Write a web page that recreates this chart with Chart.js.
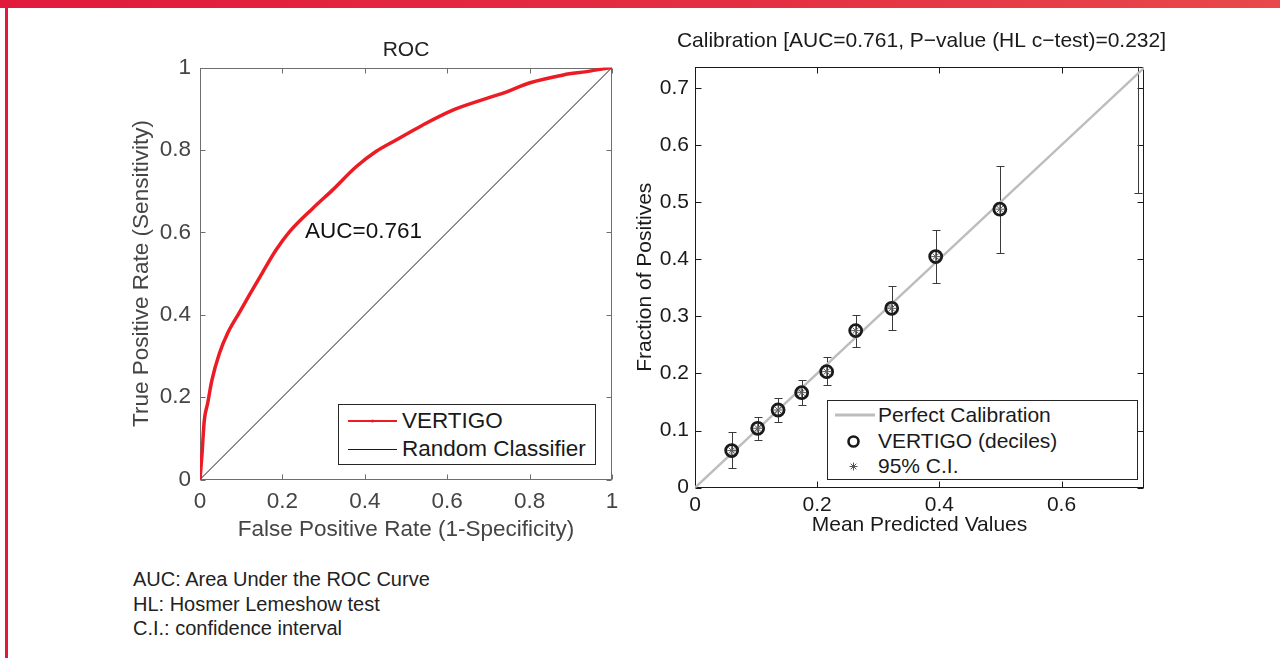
<!DOCTYPE html>
<html>
<head>
<meta charset="utf-8">
<title>VERTIGO ROC and calibration</title>
<script src="https://cdn.jsdelivr.net/npm/chart.js@4.4.1/dist/chart.umd.min.js"></script>
<style>
html, body { margin: 0; padding: 0; background: #fff; }
body { position: relative; width: 1280px; height: 658px; overflow: hidden; font-family: "Liberation Sans", Arial, Helvetica, sans-serif; color: #1a1a1a; }
#band { position: absolute; left: 0; top: 0; width: 1280px; height: 8px; background: linear-gradient(90deg, #e11a3b 0%, #e43042 60%, #e8494b 100%); }
#rule { position: absolute; left: 5px; top: 8px; width: 3px; height: 650px; background: #e11a3b; }
.panel { position: absolute; top: 0; }
#rocPanel { left: 0; }
#calPanel { left: 620px; }
.legend { position: absolute; background: #fff; border: 1px solid #262626; box-sizing: border-box; }
.row { position: absolute; left: 0; right: 0; height: 26px; line-height: 26px; white-space: nowrap; }
.row svg { position: absolute; top: 0; }
.row .txt { position: absolute; top: 0; }
#rocLegend { left: 338px; top: 404px; width: 258px; height: 61px; font-size: 22.5px; }
#calLegend { left: 827px; top: 400px; width: 311px; height: 80px; font-size: 21px; }
#notes { position: absolute; left: 133px; top: 567px; font-size: 20px; line-height: 24.5px; color: #222; }
</style>
</head>
<body>
<div id="band"></div>
<div id="rule"></div>

<div class="panel" id="rocPanel"><canvas id="rocChart" width="640" height="560"></canvas></div>
<div class="panel" id="calPanel"><canvas id="calChart" width="660" height="560"></canvas></div>

<div class="legend" id="rocLegend">
  <div class="row" style="top:3px">
    <svg width="62" height="26" style="left:0"><line x1="9" y1="13" x2="58" y2="13" stroke="#ec1c24" stroke-width="2"/><circle cx="33.5" cy="13" r="1.6" fill="#ec1c24"/></svg>
    <span class="txt" style="left:63px">VERTIGO</span>
  </div>
  <div class="row" style="top:31px">
    <svg width="62" height="26" style="left:0"><line x1="9" y1="13.5" x2="58" y2="13.5" stroke="#1a1a1a" stroke-width="1"/></svg>
    <span class="txt" style="left:63px">Random Classifier</span>
  </div>
</div>

<div class="legend" id="calLegend">
  <div class="row" style="top:1px">
    <svg width="50" height="26" style="left:0"><line x1="7" y1="13" x2="47" y2="13" stroke="#bdbdbd" stroke-width="3"/></svg>
    <span class="txt" style="left:50px">Perfect Calibration</span>
  </div>
  <div class="row" style="top:27px">
    <svg width="50" height="26" style="left:0"><circle cx="25.5" cy="13.5" r="5" fill="none" stroke="#1a1a1a" stroke-width="2.6"/></svg>
    <span class="txt" style="left:50px">VERTIGO (deciles)</span>
  </div>
  <div class="row" style="top:52px">
    <svg width="50" height="26" style="left:0"><g stroke="#555" stroke-width="1"><line x1="25.5" y1="9.5" x2="25.5" y2="17.5"/><line x1="21.5" y1="13.5" x2="29.5" y2="13.5"/><line x1="22.7" y1="10.7" x2="28.3" y2="16.3"/><line x1="22.7" y1="16.3" x2="28.3" y2="10.7"/></g></svg>
    <span class="txt" style="left:50px">95% C.I.</span>
  </div>
</div>

<div id="notes">
  <div>AUC: Area Under the ROC Curve</div>
  <div>HL: Hosmer Lemeshow test</div>
  <div>C.I.: confidence interval</div>
</div>

<script>
// ROC curve
const rocFpr = [0, 0.005, 0.0105, 0.0186, 0.029, 0.047, 0.067, 0.0955, 0.120, 0.152, 0.1845, 0.217, 0.2735, 0.322, 0.379, 0.427, 0.476, 0.540, 0.615, 0.696, 0.736, 0.801, 0.882, 0.9385, 1];
const rocTpr = [0, 0.064, 0.144, 0.185, 0.2415, 0.306, 0.355, 0.405, 0.448, 0.503, 0.557, 0.601, 0.658, 0.703, 0.759, 0.796, 0.824, 0.860, 0.897, 0.925, 0.938, 0.963, 0.982, 0.990, 1];
const chanceFpr = [0, 1];
const chanceTpr = [0, 1];
const rocTicks = [0, 0.2, 0.4, 0.6, 0.8, 1];
const rocTickLabels = ['0', '0.2', '0.4', '0.6', '0.8', '1'];
const aucText = 'AUC=0.761';
const aucAt = [0.255, 0.601];

// Calibration by decile: mean predicted, observed fraction, 95% C.I.
const calPred = [0.060, 0.1026, 0.136, 0.1746, 0.2155, 0.263, 0.322, 0.394, 0.499, 0.7255];
const calObs  = [0.065, 0.104, 0.136, 0.1664, 0.2032, 0.275, 0.314, 0.4046, 0.4876, 0.80];
const calLow  = [0.034, 0.0835, 0.1156, 0.1448, 0.1793, 0.247, 0.276, 0.358, 0.4116, 0.516];
const calHigh = [0.097, 0.124, 0.1566, 0.1886, 0.2284, 0.303, 0.353, 0.451, 0.564, 1.0];
const idealX = [0, 0.74];
const idealY = [0, 0.74];
const calXTicks = [0, 0.2, 0.4, 0.6];
const calXTickLabels = ['0', '0.2', '0.4', '0.6'];
const calYTicks = [0, 0.1, 0.2, 0.3, 0.4, 0.5, 0.6, 0.7];
const calYTickLabels = ['0', '0.1', '0.2', '0.3', '0.4', '0.5', '0.6', '0.7'];
const calXMax = 0.735;
const calYMax = 0.737;

const FONT = '"Liberation Sans", Arial, Helvetica, sans-serif';
Chart.defaults.font.family = FONT;

function pts(xs, ys) {
    return xs.map((x, i) => ({ x: x, y: ys[i] }));
}

// box round the plot with inward ticks on all four sides (matlab look)
const framePlugin = {
    id: 'frame',
    beforeDatasetsDraw(chart, args, o) {
        const { ctx, chartArea: a, scales: { x, y } } = chart;
        const L = Math.round(a.left) + 0.5, R = Math.round(a.right) - 0.5;
        const T = Math.round(a.top) + 0.5, B = Math.round(a.bottom) - 0.5;
        ctx.save();
        ctx.strokeStyle = o.color;
        ctx.lineWidth = 1;
        ctx.strokeRect(L, T, R - L, B - T);
        ctx.beginPath();
        x.ticks.forEach(t => {
            const px = Math.round(x.getPixelForValue(t.value)) + 0.5;
            ctx.moveTo(px, B); ctx.lineTo(px, B - o.len);
            ctx.moveTo(px, T); ctx.lineTo(px, T + o.len);
        });
        y.ticks.forEach(t => {
            const py = Math.round(y.getPixelForValue(t.value)) + 0.5;
            ctx.moveTo(L, py); ctx.lineTo(L + o.len, py);
            ctx.moveTo(R, py); ctx.lineTo(R - o.len, py);
        });
        ctx.stroke();
        ctx.restore();
    }
};

// title centred over the plot area, not over the whole canvas
const panelTitle = {
    id: 'panelTitle',
    afterDraw(chart, args, o) {
        const { ctx, chartArea: a } = chart;
        ctx.save();
        ctx.font = o.font;
        ctx.fillStyle = o.color;
        ctx.textAlign = 'center';
        ctx.textBaseline = 'middle';
        ctx.fillText(o.text, (a.left + a.right) / 2 + (o.dx || 0), o.y);
        ctx.restore();
    }
};

const aucNote = {
    id: 'aucNote',
    afterDatasetsDraw(chart, args, o) {
        const { ctx, scales: { x, y } } = chart;
        ctx.save();
        ctx.font = o.font;
        ctx.fillStyle = o.color;
        ctx.textAlign = 'left';
        ctx.textBaseline = 'middle';
        ctx.fillText(aucText, x.getPixelForValue(aucAt[0]), y.getPixelForValue(aucAt[1]));
        ctx.restore();
    }
};

const errorBars = {
    id: 'errorBars',
    beforeDatasetsDraw(chart, args, o) {
        const { ctx, chartArea: a, scales: { x, y } } = chart;
        ctx.save();
        ctx.beginPath();
        ctx.rect(a.left, a.top, a.right - a.left, a.bottom - a.top);
        ctx.clip();
        ctx.strokeStyle = o.color;
        ctx.lineWidth = 1;
        ctx.beginPath();
        calPred.forEach((p, i) => {
            const px = Math.round(x.getPixelForValue(p)) + 0.5;
            const lo = Math.round(y.getPixelForValue(calLow[i])) + 0.5;
            const hi = Math.round(y.getPixelForValue(calHigh[i])) + 0.5;
            ctx.moveTo(px, lo); ctx.lineTo(px, hi);
            ctx.moveTo(px - o.cap, lo); ctx.lineTo(px + o.cap, lo);
            ctx.moveTo(px - o.cap, hi); ctx.lineTo(px + o.cap, hi);
        });
        ctx.stroke();
        ctx.restore();
    }
};

function fixedTicks(values) {
    return scale => { scale.ticks = values.map(v => ({ value: v })); };
}

// ---- ROC panel ----
const rocGrey = '#454545';
new Chart(document.getElementById('rocChart'), {
    type: 'scatter',
    data: {
        datasets: [{
            label: 'VERTIGO',
            type: 'line',
            data: pts(rocFpr, rocTpr),
            borderColor: '#ec1c24',
            borderWidth: 3.5,
            pointRadius: 0,
            cubicInterpolationMode: 'monotone',
            fill: false
        }, {
            label: 'Random Classifier',
            type: 'line',
            data: pts(chanceFpr, chanceTpr),
            borderColor: '#1a1a1a',
            borderWidth: 1,
            pointRadius: 0,
            fill: false
        }]
    },
    options: {
        responsive: false,
        animation: false,
        events: [],
        layout: { padding: { left: 120, right: 28, top: 67.5, bottom: 0 } },
        plugins: {
            legend: { display: false },
            tooltip: { enabled: false },
            frame: { color: '#6e6e6e', len: 5 },
            panelTitle: { text: 'ROC', font: '21px ' + FONT, color: '#222', y: 50 },
            aucNote: { font: '22.5px ' + FONT, color: '#111' }
        },
        scales: {
            x: {
                type: 'linear', min: 0, max: 1,
                afterBuildTicks: fixedTicks(rocTicks),
                afterFit: s => { s.height = 80.5; },
                grid: { display: false, drawTicks: false },
                border: { display: false },
                ticks: { callback: (v, i) => rocTickLabels[i], padding: 9, color: rocGrey, font: { size: 22.5 }, maxRotation: 0, autoSkip: false },
                title: { display: true, text: 'False Positive Rate (1-Specificity)', color: rocGrey, font: { size: 22.5 }, padding: { top: 0, bottom: 16.5 } }
            },
            y: {
                type: 'linear', min: 0, max: 1,
                afterBuildTicks: fixedTicks(rocTicks),
                afterFit: s => { s.width = 80; },
                grid: { display: false, drawTicks: false },
                border: { display: false },
                ticks: { callback: (v, i) => rocTickLabels[i], padding: 9, color: rocGrey, font: { size: 22.5 }, autoSkip: false },
                title: { display: true, text: 'True Positive Rate (Sensitivity)', color: rocGrey, font: { size: 22.5 }, padding: { top: 8, bottom: 0 } }
            }
        }
    },
    plugins: [framePlugin, panelTitle, aucNote]
});

// ---- calibration panel ----
new Chart(document.getElementById('calChart'), {
    type: 'scatter',
    data: {
        datasets: [{
            label: '95% C.I.',
            data: pts(calPred, calObs),
            pointStyle: 'star',
            pointRadius: 4.5,
            borderColor: '#5a5a5a',
            borderWidth: 1,
            backgroundColor: 'rgba(0,0,0,0)',
            order: 0
        }, {
            label: 'VERTIGO (deciles)',
            data: pts(calPred, calObs),
            pointStyle: 'circle',
            pointRadius: 6,
            borderColor: '#1a1a1a',
            borderWidth: 2.8,
            backgroundColor: 'rgba(0,0,0,0)',
            order: 1
        }, {
            label: 'Perfect Calibration',
            type: 'line',
            data: pts(idealX, idealY),
            borderColor: '#bdbdbd',
            borderWidth: 2.5,
            pointRadius: 0,
            fill: false,
            order: 2
        }]
    },
    options: {
        responsive: false,
        animation: false,
        events: [],
        layout: { padding: { left: 0, right: 136, top: 66.7, bottom: 17.3 } },
        plugins: {
            legend: { display: false },
            tooltip: { enabled: false },
            frame: { color: '#1a1a1a', len: 6 },
            errorBars: { color: '#3a3a3a', cap: 4 },
            panelTitle: { text: 'Calibration [AUC=0.761, P\u2212value (HL c\u2212test)=0.232]', font: '21px ' + FONT, color: '#1a1a1a', y: 41, dx: 2 }
        },
        scales: {
            x: {
                type: 'linear', min: 0, max: calXMax,
                afterBuildTicks: fixedTicks(calXTicks),
                afterFit: s => { s.height = 55; },
                grid: { display: false, drawTicks: false },
                border: { display: false },
                ticks: { callback: (v, i) => calXTickLabels[i], padding: 4.5, color: '#1a1a1a', font: { size: 21 }, maxRotation: 0, autoSkip: false },
                title: { display: true, text: 'Mean Predicted Values', color: '#1a1a1a', font: { size: 21 }, padding: { top: 0, bottom: 5 } }
            },
            y: {
                type: 'linear', min: 0, max: calYMax,
                afterBuildTicks: fixedTicks(calYTicks),
                afterFit: s => { s.width = 75; },
                grid: { display: false, drawTicks: false },
                border: { display: false },
                ticks: { callback: (v, i) => calYTickLabels[i], padding: 6, color: '#1a1a1a', font: { size: 21 }, autoSkip: false },
                title: { display: true, text: 'Fraction of Positives', color: '#1a1a1a', font: { size: 21 }, padding: { top: 12.5, bottom: 0 } }
            }
        }
    },
    plugins: [framePlugin, errorBars, panelTitle]
});
</script>
</body>
</html>
